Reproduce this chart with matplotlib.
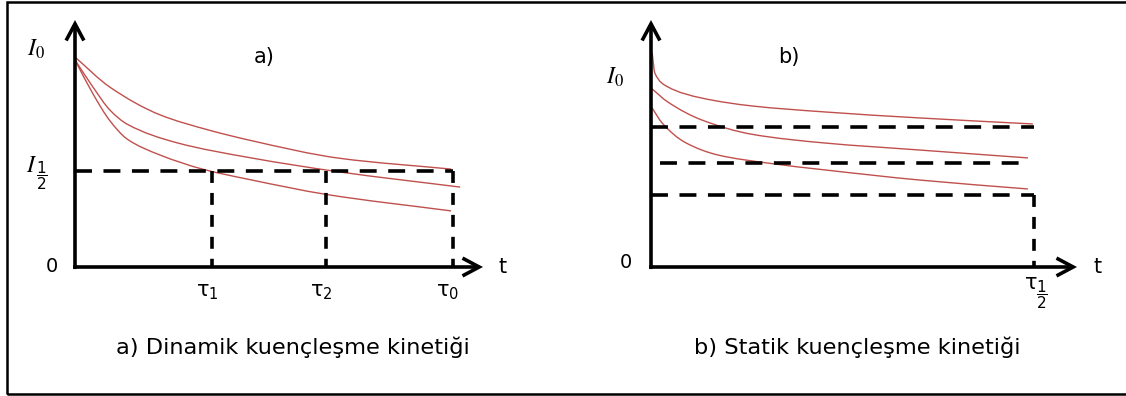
import matplotlib
matplotlib.use("Agg")
import matplotlib.pyplot as plt
from matplotlib.path import Path
from matplotlib.patches import PathPatch, FancyArrowPatch, Rectangle

plt.rcParams["lines.scale_dashes"] = False

# ---- a) dynamic kinetics: normalised time t/tau0 and intensity I/I0 ----
dyn_upper_t = [0.0, 0.093, 0.225, 0.357, 0.463, 0.701, 0.995]
dyn_upper_i = [1.014, 0.868, 0.735, 0.660, 0.612, 0.525, 0.473]
dyn_mid_t = [0.0, 0.048, 0.093, 0.138, 0.270, 0.463, 0.701, 1.019]
dyn_mid_i = [1.0, 0.868, 0.757, 0.690, 0.600, 0.528, 0.459, 0.386]
dyn_low_t = [0.0, 0.048, 0.093, 0.138, 0.225, 0.339, 0.463, 0.667, 0.995]
dyn_low_i = [1.0, 0.835, 0.705, 0.618, 0.541, 0.472, 0.422, 0.350, 0.271]
dyn_half_level = 0.464
dyn_tau = [0.362, 0.664, 1.0]
dyn_tau_labels = [r"τ$_1$", r"τ$_2$", r"τ$_0$"]

# ---- b) static kinetics: normalised time t/tau_half and intensity ----
st_upper_t = [0.003, 0.010, 0.044, 0.133, 0.264, 0.454, 0.702, 0.997]
st_upper_i = [1.034, 0.937, 0.870, 0.816, 0.778, 0.749, 0.720, 0.691]
st_mid_t = [0.0, 0.044, 0.133, 0.264, 0.454, 0.702, 0.984]
st_mid_i = [0.865, 0.797, 0.710, 0.641, 0.599, 0.565, 0.527]
st_low_t = [0.003, 0.029, 0.089, 0.175, 0.305, 0.454, 0.702, 0.984]
st_low_i = [0.768, 0.696, 0.602, 0.541, 0.502, 0.469, 0.420, 0.377]
st_levels = [0.676, 0.502, 0.348]
st_tau_half = 1.0

W, H = 1126, 396
CURVE = "#c0504d"
fig = plt.figure(figsize=(W / 100, H / 100), dpi=100)


def fxy(x, y):
    """pixel position (from top-left) -> figure fraction"""
    return x / W, 1 - y / H


def make_panel(ox, oy, sx, sy):
    ax = fig.add_axes([ox / W, (H - oy) / H, sx / W, sy / H])
    ax.set_xlim(0, 1)
    ax.set_ylim(0, 1)
    ax.axis("off")
    return ax


def smooth(ax, t, v, **kw):
    # monotone (PCHIP-type) cubic through the points, drawn as Bezier segments
    n = len(t)
    h = [t[i + 1] - t[i] for i in range(n - 1)]
    d = [(v[i + 1] - v[i]) / h[i] for i in range(n - 1)]
    m = [d[0]]
    for i in range(1, n - 1):
        if d[i - 1] * d[i] <= 0:
            m.append(0.0)
        else:
            w1 = 2 * h[i] + h[i - 1]
            w2 = h[i] + 2 * h[i - 1]
            m.append((w1 + w2) / (w1 / d[i - 1] + w2 / d[i]))
    m.append(d[-1])
    verts = [(t[0], v[0])]
    codes = [Path.MOVETO]
    for i in range(n - 1):
        c1 = (t[i] + h[i] / 3, v[i] + m[i] * h[i] / 3)
        c2 = (t[i + 1] - h[i] / 3, v[i + 1] - m[i + 1] * h[i] / 3)
        verts += [c1, c2, (t[i + 1], v[i + 1])]
        codes += [Path.CURVE4] * 3
    ax.add_patch(PathPatch(Path(verts, codes), fill=False, clip_on=False, **kw))


def axes_arrows(ax, ytop, xend):
    arrow_kw = dict(arrowstyle="->,head_length=0.6,head_width=0.32", mutation_scale=20,
                    lw=2.6, color="black", clip_on=False, shrinkA=0, shrinkB=0,
                    joinstyle="miter", capstyle="butt")
    ax.add_patch(FancyArrowPatch((0, -0.01), (0, ytop), **arrow_kw))
    ax.add_patch(FancyArrowPatch((-0.005, 0), (xend, 0), **arrow_kw))


HDASH = (12.2, 8.3)
VDASH = (8.6, 7.2)
DLW = 2.6

# ================= panel a =================
axa = make_panel(75, 267, 378, 207)
for t, v in [(dyn_upper_t, dyn_upper_i), (dyn_mid_t, dyn_mid_i), (dyn_low_t, dyn_low_i)]:
    smooth(axa, t, v, color=CURVE, lw=1.0)
axa.plot([0, max(dyn_tau)], [dyn_half_level] * 2, color="black", lw=DLW,
         dashes=HDASH, clip_on=False)
for tau in dyn_tau:
    axa.plot([tau, tau], [dyn_half_level, 0], color="black", lw=DLW,
             dashes=VDASH, clip_on=False)
axes_arrows(axa, (267 - 20) / 207, (483 - 75) / 378)

# ================= panel b =================
axb = make_panel(651, 267, 383, 207)
for t, v in [(st_upper_t, st_upper_i), (st_mid_t, st_mid_i), (st_low_t, st_low_i)]:
    smooth(axb, t, v, color=CURVE, lw=1.0)
starts = [0.0, 0.023, 0.0]
ends = [st_tau_half, 0.979, st_tau_half]
for lev, s, e in zip(st_levels, starts, ends):
    axb.plot([s, e], [lev, lev], color="black", lw=DLW, dashes=HDASH, clip_on=False)
axb.plot([st_tau_half, st_tau_half], [min(st_levels), 0], color="black", lw=DLW,
         dashes=VDASH, clip_on=False)
axes_arrows(axb, (267 - 20) / 207, (1077 - 651) / 383)

# ================= labels =================
sans = dict(family="DejaVu Sans", color="black", ha="center", va="center")
math_kw = dict(color="black", ha="center", va="center", math_fontfamily="stix")
frac_kw = dict(color="black", ha="center", va="center", math_fontfamily="dejavusans")

# panel a
fig.text(*fxy(36, 49), r"$I_0$", fontsize=17, **math_kw)
fig.text(*fxy(32, 165), r"$I$", fontsize=17, **math_kw)
fig.text(*fxy(42, 176), r"$\dfrac{1}{2}$", fontsize=11, **frac_kw)
fig.text(*fxy(264, 57), "a)", fontsize=15, **sans)
fig.text(*fxy(52, 267), "0", fontsize=14, **sans)
fig.text(*fxy(503, 267), "t", fontsize=15, **sans)
for tau, lab in zip(dyn_tau, dyn_tau_labels):
    x = 75 + tau * 378 - 5
    fig.text(*fxy(x, 292), lab, fontsize=15, **sans)
fig.text(*fxy(293, 347), "a) Dinamik kuençleşme kinetiği", fontsize=16.2, **sans)

# panel b
fig.text(*fxy(615, 77), r"$I_0$", fontsize=17, **math_kw)
fig.text(*fxy(789, 57), "b)", fontsize=15, **sans)
fig.text(*fxy(626, 263), "0", fontsize=14, **sans)
fig.text(*fxy(1098, 267), "t", fontsize=15, **sans)
xt = 651 + st_tau_half * 383
fig.text(*fxy(xt - 3, 283), "τ", fontsize=15, **sans)
fig.text(*fxy(xt + 8, 295), r"$\dfrac{1}{2}$", fontsize=11, **frac_kw)
fig.text(*fxy(857, 347), "b) Statik kuençleşme kinetiği", fontsize=16.2, **sans)

# outer frame (right edge runs off the canvas)
fig.add_artist(Rectangle((7 / W, 1 - 393.5 / H), (1140 - 7) / W, (393.5 - 1.5) / H,
                         transform=fig.transFigure, fill=False, lw=1.8,
                         edgecolor="black", clip_on=False))

fig.savefig("out.png", dpi=100, facecolor="white")
